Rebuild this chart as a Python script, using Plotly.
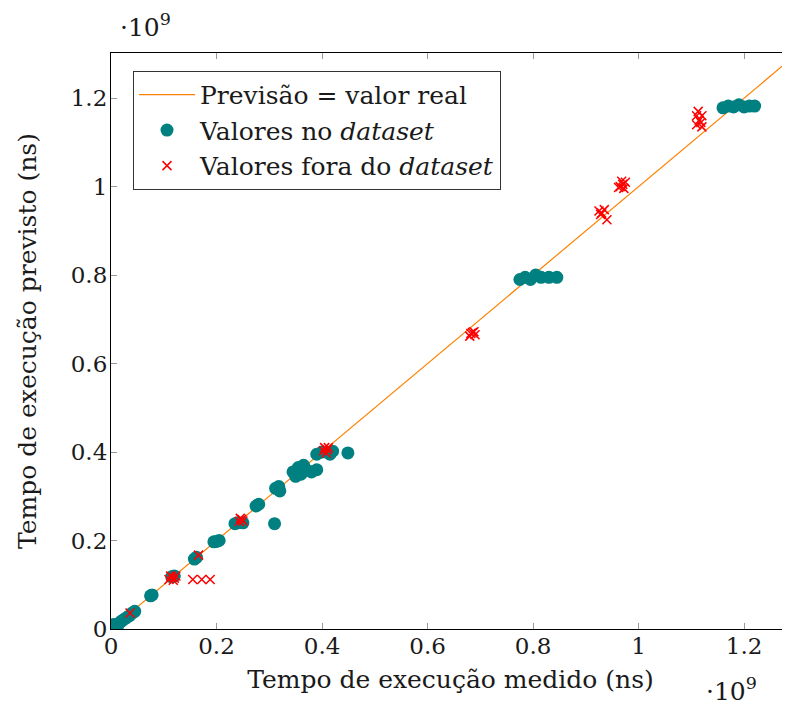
import plotly.graph_objects as go

# values in units of 10^9 ns
line_x = [0.0, 1.3]
line_y = [0.0, 1.3]

in_x = [0.0, 0.005, 0.01, 0.015, 0.02, 0.025, 0.03, 0.035, 0.04, 0.045, 0.005, 0.012,
        0.075, 0.078, 0.115, 0.12, 0.158, 0.162, 0.195, 0.2, 0.205,
        0.235, 0.24, 0.25, 0.31, 0.275, 0.28, 0.312, 0.318, 0.32,
        0.345, 0.355, 0.36, 0.37, 0.38, 0.365, 0.39, 0.35,
        0.39, 0.4, 0.415, 0.42, 0.449,
        0.775, 0.785, 0.795, 0.805, 0.815, 0.83, 0.845,
        1.16, 1.17, 1.18, 1.19, 1.2, 1.21, 1.22]
in_y = [0.0, 0.004, 0.008, 0.013, 0.018, 0.022, 0.026, 0.03, 0.036, 0.04, 0.01, 0.005,
        0.075, 0.077, 0.118, 0.12, 0.158, 0.162, 0.197, 0.198, 0.2,
        0.238, 0.24, 0.24, 0.238, 0.278, 0.282, 0.318, 0.322, 0.312,
        0.355, 0.365, 0.35, 0.36, 0.355, 0.37, 0.36, 0.345,
        0.395, 0.4, 0.395, 0.402, 0.398,
        0.79, 0.795, 0.79, 0.8, 0.795, 0.795, 0.795,
        1.178, 1.182, 1.18, 1.185, 1.18, 1.182, 1.182]

out_x = [0.036,
         0.11, 0.115, 0.12, 0.118, 0.123, 0.113,
         0.155, 0.172, 0.188,
         0.166,
         0.243, 0.248, 0.25, 0.245,
         0.403, 0.41, 0.408, 0.412, 0.405,
         0.68, 0.685, 0.69, 0.688, 0.682,
         0.925, 0.93, 0.935, 0.928, 0.94,
         0.965, 0.97, 0.975, 0.968, 0.962, 0.972,
         1.11, 1.115, 1.12, 1.113, 1.118, 1.11, 1.12]
out_y = [0.036,
         0.112, 0.118, 0.115, 0.11, 0.12, 0.12,
         0.112, 0.112, 0.112,
         0.167,
         0.243, 0.248, 0.244, 0.25,
         0.403, 0.405, 0.398, 0.41, 0.41,
         0.662, 0.67, 0.665, 0.672, 0.668,
         0.945, 0.94, 0.948, 0.937, 0.925,
         1.0, 1.005, 1.01, 1.012, 0.998, 0.996,
         1.14, 1.15, 1.16, 1.17, 1.145, 1.16, 1.135]

x_ticks = [0, 0.2, 0.4, 0.6, 0.8, 1.0, 1.2]
x_tick_text = ["0", "0.2", "0.4", "0.6", "0.8", "1", "1.2"]
y_ticks = [0, 0.2, 0.4, 0.6, 0.8, 1.0, 1.2]
y_tick_text = ["0", "0.2", "0.4", "0.6", "0.8", "1", "1.2"]

FONT = "DejaVu Serif"
TXT = "#1a1a1a"

fig = go.Figure()
fig.add_trace(go.Scatter(x=line_x, y=line_y, mode="lines",
                         line=dict(color="rgb(255,128,0)", width=1.2),
                         name="Previsão = valor real"))
fig.add_trace(go.Scatter(x=in_x, y=in_y, mode="markers",
                         marker=dict(color="rgb(0,128,128)", size=13, symbol="circle"),
                         name="Valores no <i>dataset</i>"))
fig.add_trace(go.Scatter(x=out_x, y=out_y, mode="markers",
                         marker=dict(color="rgb(255,0,0)", size=9, symbol="x-thin",
                                     line=dict(color="rgb(255,0,0)", width=1.5)),
                         name="Valores fora do <i>dataset</i>"))

axis_common = dict(showgrid=False, zeroline=False, showline=True, linecolor="black",
                   linewidth=1.2, mirror="ticks", ticks="inside", ticklen=6,
                   tickcolor="#999999", tickwidth=1, automargin=False,
                   tickfont=dict(family=FONT, size=23, color=TXT))

fig.update_xaxes(range=[0, 1.287], tickvals=x_ticks, ticktext=x_tick_text,
                 ticklabelstandoff=-4,
                 title=dict(text="Tempo de execução medido (ns)",
                            font=dict(family=FONT, size=25, color=TXT), standoff=12),
                 **axis_common)
fig.update_yaxes(range=[0, 1.302], tickvals=y_ticks, ticktext=y_tick_text,
                 ticklabelstandoff=-2,
                 title=dict(text="Tempo de execução previsto (ns)",
                            font=dict(family=FONT, size=25, color=TXT), standoff=26),
                 **axis_common)

fig.add_annotation(text="·10<sup>9</sup>", xref="paper", yref="paper", x=0.01, y=1.048,
                   xanchor="left", yanchor="middle", showarrow=False,
                   font=dict(family=FONT, size=25, color=TXT))
fig.add_annotation(text="·10<sup>9</sup>", xref="paper", yref="paper", x=0.873, y=-0.105,
                   xanchor="left", yanchor="middle", showarrow=False,
                   font=dict(family=FONT, size=25, color=TXT))

fig.update_layout(
    width=782, height=703,
    margin=dict(l=103, r=0, t=45, b=82),
    plot_bgcolor="white", paper_bgcolor="white",
    font=dict(family=FONT, color=TXT),
    legend=dict(x=0.0324, y=0.969, xanchor="left", yanchor="top",
                bordercolor="#333333", borderwidth=1, bgcolor="white",
                font=dict(family=FONT, size=25, color=TXT),
                tracegroupgap=0, itemwidth=56),
    showlegend=True,
)

fig.write_html("out.html")
